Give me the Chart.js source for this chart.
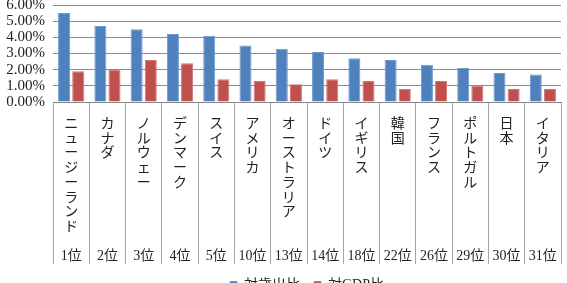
<!DOCTYPE html>
<html>
<head>
<meta charset="utf-8">
<script src="https://cdn.jsdelivr.net/npm/chart.js@4.4.1/dist/chart.umd.min.js"></script>
<style>
  html, body { margin: 0; padding: 0; background: #fff; }
  body { width: 567px; height: 283px; overflow: hidden; }
  #wrap { width: 567px; height: 302px; }
</style>
</head>
<body>
<div id="wrap"><canvas id="chart" width="567" height="302"></canvas></div>
<script>
// ---- data ----
const countries = ['ニュージーランド', 'カナダ', 'ノルウェー', 'デンマーク', 'スイス', 'アメリカ',
  'オーストラリア', 'ドイツ', 'イギリス', '韓国', 'フランス', 'ポルトガル', '日本', 'イタリア'];
const ranks = ['1位', '2位', '3位', '4位', '5位', '10位', '13位', '14位', '18位', '22位',
  '26位', '29位', '30位', '31位'];
const vsBudget = [5.5, 4.7, 4.5, 4.2, 4.1, 3.5, 3.3, 3.1, 2.7, 2.6, 2.3, 2.1, 1.8, 1.7];  // 対歳出比 (%)
const vsGDP = [1.9, 2.0, 2.6, 2.4, 1.4, 1.3, 1.1, 1.4, 1.3, 0.8, 1.3, 1.0, 0.8, 0.8];       // 対GDP比 (%)
const seriesNames = ['対歳出比', '対GDP比'];

const FONT = '"Liberation Serif", "Noto Sans CJK JP", serif';
const LINES = 10; // name chars stacked, then the rank on the last line

// each label: one character per line, padded so the rank sits at the bottom
const labels = countries.map((name, i) => {
  const chars = [...name];
  while (chars.length < LINES - 1) chars.push('');
  chars.push(ranks[i]);
  return chars;
});

// center the legend under the plot area (like Excel does), not the whole canvas
const legendUnderPlot = {
  id: 'legendUnderPlot',
  afterLayout(chart) {
    chart.legend.left = chart.chartArea.left;
    chart.legend.right = chart.chartArea.right;
  }
};

const ctx = document.getElementById('chart');
new Chart(ctx, {
  type: 'bar',
  data: {
    labels: labels,
    datasets: [
      {
        label: seriesNames[0],
        data: vsBudget,
        backgroundColor: '#4f81bd',
        borderColor: '#6f9ad0',
        borderWidth: 1
      },
      {
        label: seriesNames[1],
        data: vsGDP,
        backgroundColor: '#c0504d',
        borderColor: '#d47572',
        borderWidth: 1
      }
    ]
  },
  options: {
    responsive: false,
    animation: false,
    devicePixelRatio: 1,
    categoryPercentage: 0.78,
    barPercentage: 0.85,
    layout: { padding: { left: 0, right: 6, top: 5, bottom: 0 } },
    scales: {
      x: {
        grid: {
          offset: true,
          drawOnChartArea: false,
          drawTicks: true,
          tickLength: 162,
          color: '#a6a6a6'
        },
        border: { color: '#868686' },
        ticks: {
          autoSkip: false,
          maxRotation: 0,
          minRotation: 0,
          padding: -147,
          color: '#222',
          font: { family: FONT, size: 14, lineHeight: 1.05 }
        },
        afterFit: (scale) => { scale.height = 162; }
      },
      y: {
        min: 0,
        max: 6,
        ticks: {
          stepSize: 1,
          autoSkip: false,
          padding: 8,
          color: '#222',
          font: { family: FONT, size: 15 },
          callback: (v) => v.toFixed(2) + '%'
        },
        grid: { color: '#8c8c8c', drawTicks: false },
        border: { display: false },
        afterFit: (scale) => {
          scale.width = 53;
          scale.paddingTop = 0;
          scale.paddingBottom = 0;
        }
      }
    },
    plugins: {
      legend: {
        position: 'bottom',
        labels: {
          boxWidth: 7,
          boxHeight: 7,
          padding: 14,
          color: '#222',
          font: { family: FONT, size: 14 }
        }
      },
      tooltip: { enabled: false }
    }
  },
  plugins: [legendUnderPlot]
});
</script>
</body>
</html>
